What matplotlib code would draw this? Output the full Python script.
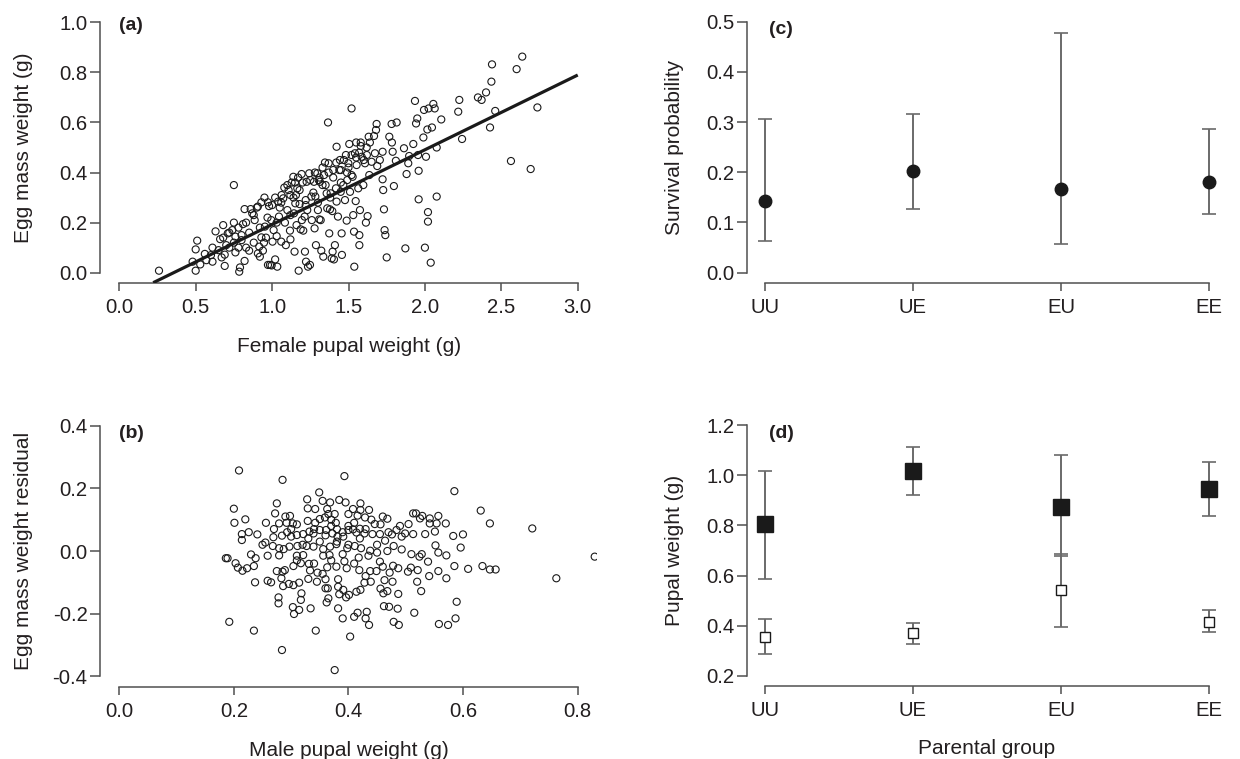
import matplotlib
matplotlib.use("Agg")
import matplotlib.pyplot as plt
import numpy as np

plt.rcParams['font.family'] = ['Liberation Sans', 'DejaVu Sans']

# ---------------- data ----------------
# (a) female pupal weight vs egg mass weight
female_w = [0.26, 0.50, 0.50, 0.51, 0.48, 0.53, 0.56, 0.61, 0.61, 0.63, 0.66, 0.67, 0.68, 0.69, 0.69, 0.71,
            0.72, 0.74, 0.75, 0.75, 0.76, 0.76, 0.78, 0.785, 0.79, 0.80, 0.81, 0.82, 0.82, 0.83, 0.83, 0.85,
            0.86, 0.87, 0.886, 0.907, 0.907, 0.916, 0.92, 0.93, 0.93, 0.94, 0.947, 0.953, 0.973, 0.973, 0.98,
            0.986, 0.995, 0.997, 1.003, 1.02, 1.034, 1.01, 1.03, 1.04, 1.045, 1.06, 1.062, 1.073, 1.084, 1.09,
            1.10, 1.108, 1.117, 1.12, 1.128, 1.139, 1.143, 1.147, 1.152, 1.156, 1.165, 1.174, 1.18, 1.187,
            1.193, 1.195, 1.204, 1.213, 1.215, 1.222, 1.226, 1.23, 1.235, 1.243, 1.248, 1.257, 1.274, 1.278,
            1.283, 1.287, 1.296, 1.30, 1.305, 1.309, 1.313, 1.318, 1.322, 1.33, 1.335, 1.34, 1.346, 1.357,
            1.361, 1.366, 1.37, 1.374, 1.379, 1.383, 1.39, 1.394, 1.396, 1.40, 1.405, 1.411, 1.418, 1.422,
            1.422, 1.431, 1.44, 1.444, 1.449, 1.455, 1.457, 1.466, 1.477, 1.483, 1.488, 1.492, 1.499, 1.505,
            1.51, 1.52, 1.527, 1.531, 1.536, 1.538, 1.542, 1.547, 1.553, 1.564, 1.571, 1.571, 1.575, 1.58,
            1.586, 1.597, 1.608, 1.614, 1.619, 1.625, 1.632, 1.636, 1.651, 1.667, 1.673, 1.68, 1.684, 1.688,
            1.705, 1.723, 1.723, 1.727, 1.732, 1.736, 1.741, 1.75, 1.767, 1.782, 1.784, 1.789, 1.797, 1.81,
            1.815, 1.863, 1.872, 1.88, 1.891, 1.897, 1.924, 1.935, 1.942, 1.95, 1.955, 1.959, 1.959, 1.99,
            1.994, 2.0, 2.007, 2.016, 2.02, 2.02, 2.024, 2.038, 2.046, 2.055, 2.064, 2.077, 2.077, 2.107,
            2.218, 2.225, 2.243, 2.347, 2.371, 2.40, 2.426, 2.435, 2.439, 2.46, 2.563, 2.60, 2.637, 2.692,
            2.736,
            0.88, 0.90, 0.95, 0.97, 1.00, 1.02, 1.05, 1.06, 1.08, 1.10, 1.12, 1.14, 1.15, 1.17, 1.18, 1.20,
            1.22, 1.25, 1.27, 1.28, 1.31, 1.33, 1.35, 1.37, 1.40, 1.42, 1.45, 1.47, 1.50, 1.52, 1.55, 1.57,
            1.60, 1.62, 1.58, 1.64, 1.55, 1.49, 1.03, 0.92, 0.85, 0.80, 0.78, 0.75, 0.70, 0.65, 0.60, 0.57,
            0.72, 0.68, 1.12, 1.22, 1.30, 1.38, 1.45, 1.52, 1.26, 1.16, 0.96, 0.88]
egg_w = [0.008, 0.008, 0.093, 0.128, 0.044, 0.033, 0.075, 0.044, 0.10, 0.165, 0.134, 0.061, 0.19, 0.072, 0.027, 0.157,
         0.10, 0.17, 0.35, 0.20, 0.144, 0.081, 0.10, 0.004, 0.021, 0.13, 0.194, 0.254, 0.047, 0.10, 0.20, 0.088,
         0.254, 0.237, 0.21, 0.077, 0.264, 0.104, 0.064, 0.281, 0.141, 0.088, 0.12, 0.184, 0.281, 0.031, 0.266,
         0.031, 0.21, 0.029, 0.124, 0.053, 0.024, 0.17, 0.146, 0.284, 0.224, 0.124, 0.31, 0.297, 0.20, 0.11,
         0.25, 0.33, 0.168, 0.133, 0.36, 0.383, 0.237, 0.084, 0.277, 0.31, 0.337, 0.008, 0.274, 0.173,
         0.394, 0.21, 0.168, 0.224, 0.084, 0.044, 0.363, 0.25, 0.024, 0.397, 0.031, 0.304, 0.363, 0.177,
         0.304, 0.11, 0.397, 0.25, 0.37, 0.213, 0.363, 0.21, 0.088, 0.35, 0.064, 0.39, 0.44, 0.317,
         0.257, 0.60, 0.437, 0.157, 0.253, 0.317, 0.057, 0.246, 0.084, 0.41, 0.053, 0.11, 0.337, 0.503,
         0.284, 0.224, 0.41, 0.45, 0.323, 0.157, 0.071, 0.35, 0.29, 0.47, 0.208, 0.37, 0.437, 0.514,
         0.323, 0.656, 0.383, 0.23, 0.164, 0.024, 0.477, 0.286, 0.43, 0.337, 0.15, 0.11, 0.25, 0.506,
         0.463, 0.35, 0.437, 0.20, 0.50, 0.226, 0.543, 0.39, 0.443, 0.546, 0.477, 0.57, 0.594, 0.426,
         0.45, 0.483, 0.373, 0.33, 0.253, 0.17, 0.15, 0.061, 0.543, 0.594, 0.52, 0.483, 0.346, 0.447,
         0.60, 0.497, 0.097, 0.394, 0.437, 0.466, 0.514, 0.686, 0.596, 0.616, 0.47, 0.293, 0.407, 0.54,
         0.65, 0.10, 0.463, 0.572, 0.242, 0.204, 0.656, 0.04, 0.58, 0.674, 0.656, 0.50, 0.304, 0.612,
         0.643, 0.69, 0.534, 0.70, 0.69, 0.72, 0.58, 0.763, 0.832, 0.646, 0.446, 0.813, 0.863, 0.414,
         0.66,
         0.23, 0.26, 0.30, 0.22, 0.27, 0.30, 0.26, 0.28, 0.34, 0.35, 0.31, 0.30, 0.36, 0.38, 0.33, 0.36,
         0.29, 0.37, 0.32, 0.40, 0.38, 0.42, 0.35, 0.40, 0.38, 0.44, 0.41, 0.45, 0.42, 0.47, 0.46, 0.48,
         0.45, 0.47, 0.52, 0.52, 0.52, 0.40, 0.20, 0.18, 0.16, 0.15, 0.18, 0.12, 0.11, 0.09, 0.07, 0.05,
         0.16, 0.14, 0.23, 0.27, 0.28, 0.30, 0.36, 0.39, 0.21, 0.19, 0.14, 0.12]
fit_intercept = -0.1063
fit_slope = 0.2986
fit_x_range = [0.222, 3.0]

# (b) male pupal weight vs egg mass weight residual
male_w = [0.209, 0.285, 0.393, 0.585, 0.349, 0.20, 0.328, 0.384, 0.395, 0.421, 0.275, 0.329, 0.342, 0.355,
          0.368, 0.363, 0.408, 0.421, 0.436, 0.631, 0.272, 0.298, 0.22, 0.201, 0.256, 0.279, 0.292, 0.303,
          0.31, 0.329, 0.342, 0.35, 0.359, 0.365, 0.376, 0.378, 0.40, 0.416, 0.429, 0.446, 0.456, 0.468,
          0.505, 0.513, 0.518, 0.525, 0.529, 0.542, 0.557, 0.542, 0.554, 0.57, 0.647, 0.721, 0.214, 0.226,
          0.241, 0.214, 0.269, 0.284, 0.255, 0.268, 0.293, 0.30, 0.31, 0.321, 0.332, 0.339, 0.35, 0.361,
          0.372, 0.381, 0.391, 0.40, 0.408, 0.414, 0.42, 0.428, 0.442, 0.455, 0.464, 0.476, 0.484, 0.493,
          0.499, 0.513, 0.534, 0.551, 0.583, 0.60, 0.596, 0.279, 0.287, 0.297, 0.311, 0.327, 0.339, 0.356,
          0.368, 0.379, 0.398, 0.411, 0.422, 0.438, 0.45, 0.468, 0.479, 0.493, 0.51, 0.528, 0.552, 0.557,
          0.571, 0.186, 0.189, 0.23, 0.238, 0.259, 0.279, 0.31, 0.321, 0.356, 0.367, 0.393, 0.418, 0.435,
          0.455, 0.478, 0.524, 0.539, 0.585, 0.634, 0.609, 0.647, 0.657, 0.83, 0.203, 0.207, 0.215, 0.223,
          0.235, 0.275, 0.285, 0.289, 0.304, 0.317, 0.331, 0.333, 0.346, 0.355, 0.363, 0.379, 0.397, 0.419,
          0.438, 0.449, 0.46, 0.472, 0.487, 0.504, 0.509, 0.521, 0.541, 0.557, 0.571, 0.763, 0.237, 0.259,
          0.265, 0.283, 0.286, 0.296, 0.304, 0.314, 0.33, 0.345, 0.36, 0.36, 0.364, 0.382, 0.382, 0.384,
          0.391, 0.396, 0.401, 0.414, 0.421, 0.428, 0.439, 0.456, 0.461, 0.468, 0.463, 0.477, 0.487, 0.52,
          0.527, 0.278, 0.278, 0.318, 0.317, 0.303, 0.305, 0.314, 0.334, 0.362, 0.365, 0.382, 0.39, 0.41,
          0.416, 0.43, 0.432, 0.436, 0.462, 0.471, 0.486, 0.479, 0.488, 0.515, 0.589, 0.558, 0.574, 0.587,
          0.192, 0.235, 0.343, 0.403, 0.284, 0.376,
          0.37, 0.38, 0.39, 0.40, 0.41, 0.36, 0.35, 0.38, 0.40, 0.42, 0.43, 0.44, 0.37, 0.34, 0.33, 0.32,
          0.31, 0.34, 0.37, 0.39, 0.41, 0.43, 0.45, 0.47, 0.49, 0.46, 0.30, 0.29, 0.27, 0.25]
egg_resid = [0.257, 0.227, 0.239, 0.191, 0.187, 0.135, 0.165, 0.163, 0.155, 0.152, 0.152, 0.136, 0.134, 0.16,
             0.155, 0.134, 0.134, 0.131, 0.131, 0.129, 0.12, 0.112, 0.101, 0.09, 0.09, 0.088, 0.09, 0.088,
             0.085, 0.096, 0.09, 0.102, 0.107, 0.118, 0.118, 0.09, 0.118, 0.113, 0.107, 0.086, 0.085, 0.103,
             0.086, 0.12, 0.12, 0.104, 0.112, 0.104, 0.112, 0.088, 0.088, 0.088, 0.088, 0.072, 0.054, 0.06,
             0.053, 0.035, 0.044, 0.049, 0.027, 0.016, 0.06, 0.046, 0.051, 0.054, 0.062, 0.056, 0.067, 0.067,
             0.056, 0.046, 0.046, 0.067, 0.069, 0.059, 0.071, 0.056, 0.054, 0.054, 0.033, 0.053, 0.067, 0.046,
             0.056, 0.054, 0.054, 0.062, 0.048, 0.053, 0.011, 0.009, 0.006, 0.014, 0.016, 0.016, 0.014, 0.006,
             0.014, 0.022, 0.009, 0.016, 0.009, 0.001, -0.005, 0.0, 0.016, 0.005, -0.01, -0.01, 0.018, -0.005,
             -0.014, -0.023, -0.023, -0.011, -0.023, -0.015, -0.014, -0.015, -0.013, -0.015, -0.013, -0.033,
             -0.021, -0.015, -0.034, -0.047, -0.018, -0.034, -0.048, -0.048, -0.057, -0.059, -0.059, -0.018,
             -0.039, -0.053, -0.063, -0.055, -0.048, -0.064, -0.066, -0.061, -0.048, -0.039, -0.041, -0.062,
             -0.069, -0.073, -0.052, -0.05, -0.055, -0.061, -0.064, -0.064, -0.05, -0.069, -0.055, -0.066,
             -0.053, -0.061, -0.08, -0.064, -0.087, -0.087, -0.1, -0.095, -0.1, -0.087, -0.112, -0.105,
             -0.109, -0.101, -0.089, -0.098, -0.09, -0.119, -0.119, -0.09, -0.114, -0.138, -0.124, -0.148,
             -0.14, -0.13, -0.124, -0.101, -0.098, -0.12, -0.135, -0.128, -0.093, -0.098, -0.137, -0.098,
             -0.128, -0.148, -0.167, -0.135, -0.156, -0.179, -0.201, -0.188, -0.183, -0.164, -0.151, -0.183,
             -0.215, -0.21, -0.197, -0.215, -0.194, -0.236, -0.176, -0.178, -0.184, -0.226, -0.236, -0.197,
             -0.162, -0.233, -0.236, -0.215, -0.226, -0.254, -0.254, -0.273, -0.316, -0.38,
             0.08, 0.07, 0.06, 0.08, 0.09, 0.05, 0.03, 0.03, 0.02, 0.04, 0.07, 0.10, 0.10, 0.07, 0.04, 0.02,
             -0.03, -0.04, -0.03, -0.01, -0.04, -0.08, 0.02, 0.06, 0.08, 0.11, 0.07, 0.11, 0.07, 0.02]

# (c) survival probability by parental group
groups = ['UU', 'UE', 'EU', 'EE']
survival = [0.143, 0.202, 0.166, 0.181]
survival_lo = [0.064, 0.126, 0.057, 0.117]
survival_hi = [0.306, 0.316, 0.477, 0.286]

# (d) pupal weight by parental group (filled = females, open = males)
pupal_f = [0.806, 1.017, 0.875, 0.946]
pupal_f_lo = [0.586, 0.921, 0.677, 0.836]
pupal_f_hi = [1.016, 1.112, 1.079, 1.051]
pupal_m = [0.354, 0.371, 0.543, 0.416]
pupal_m_lo = [0.287, 0.327, 0.397, 0.374]
pupal_m_hi = [0.426, 0.412, 0.685, 0.462]

# ---------------- figure ----------------
W, H = 1240, 759
fig = plt.figure(figsize=(W / 100, H / 100), dpi=100)

def px_axes(left, top, right, bottom):
    return fig.add_axes([left / W, 1 - bottom / H, (right - left) / W, (bottom - top) / H])

def ftext(x, y, s, **kw):
    fig.text(x / W, 1 - y / H, s, **kw)

SP = '#505050'
TXT = '#231f20'
TICK_FS = 14.6
LAB_FS = 15
PANEL_FS = 14

def style(ax, xb, yb, xticks, yticks, xticklabels=None, yticklabels=None):
    for s in ['top', 'right']:
        ax.spines[s].set_visible(False)
    for s in ['left', 'bottom']:
        ax.spines[s].set_color(SP)
        ax.spines[s].set_linewidth(1.1)
    ax.spines['bottom'].set_bounds(*xb)
    ax.spines['left'].set_bounds(*yb)
    ax.set_xticks(xticks)
    ax.set_yticks(yticks)
    if xticklabels is not None:
        ax.set_xticklabels(xticklabels)
    if yticklabels is not None:
        ax.set_yticklabels(yticklabels)
    ax.tick_params(axis='both', direction='out', width=1.1, color=SP,
                   labelsize=TICK_FS, labelcolor=TXT)
    ax.tick_params(axis='x', length=6, pad=5)
    ax.tick_params(axis='y', length=7.5, pad=1.5)
    ax.patch.set_alpha(0)

def fmt(v):
    return ['%.1f' % t for t in v]

# panel a
axa = px_axes(100, 12.3, 597, 282.7)
axa.set_xlim(-0.126, 3.126)
axa.set_ylim(-0.04, 1.04)
axa.scatter(female_w, egg_w, s=26, facecolors='none', edgecolors='#1a1a1a', linewidths=0.8, zorder=2)
fx = np.array(fit_x_range)
axa.plot(fx, fit_intercept + fit_slope * fx, color='#1a1a1a', lw=2.3, zorder=3, solid_capstyle='butt')
xt = [0, 0.5, 1.0, 1.5, 2.0, 2.5, 3.0]
yt = [0, 0.2, 0.4, 0.6, 0.8, 1.0]
style(axa, (0, 3), (0, 1), xt, yt, fmt(xt), fmt(yt))
ftext(119, 26, '(a)', fontsize=PANEL_FS, fontweight='bold', color=TXT, ha='left', va='center')
ftext(349, 347, 'Female pupal weight (g)', fontsize=LAB_FS, color=TXT, ha='center', va='center')
ftext(24, 148, 'Egg mass weight (g)', fontsize=LAB_FS, color=TXT, ha='center', va='center', rotation=90)

# panel b
axb = px_axes(100, 415, 597, 686.7)
axb.set_xlim(-0.0337, 0.834)
axb.set_ylim(-0.433, 0.434)
axb.scatter(male_w, egg_resid, s=26, facecolors='none', edgecolors='#1a1a1a', linewidths=0.8, zorder=2)
xt = [0, 0.2, 0.4, 0.6, 0.8]
yt = [-0.4, -0.2, 0, 0.2, 0.4]
style(axb, (0, 0.8), (-0.4, 0.4), xt, yt, fmt(xt), fmt(yt))
ftext(119, 433, '(b)', fontsize=PANEL_FS, fontweight='bold', color=TXT, ha='left', va='center')
ftext(349, 750, 'Male pupal weight (g)', fontsize=LAB_FS, color=TXT, ha='center', va='center')
ftext(24, 551, 'Egg mass weight residual', fontsize=LAB_FS, color=TXT, ha='center', va='center', rotation=90)

EB = '#6a6a6a'
# panel c
axc = px_axes(746.7, 11.7, 1227, 282.7)
axc.set_xlim(0.8785, 4.1215)
axc.set_ylim(-0.02, 0.52)
xs = np.arange(1, len(groups) + 1)
sv = np.array(survival)
axc.errorbar(xs, sv, yerr=[sv - np.array(survival_lo), np.array(survival_hi) - sv], fmt='none',
             ecolor=EB, elinewidth=1.4, capsize=5, capthick=1.2, zorder=2)
axc.plot(xs, sv, 'o', ms=9, color='#1a1a1a', zorder=3)
yt = [0, 0.1, 0.2, 0.3, 0.4, 0.5]
style(axc, (1, 4), (0, 0.5), xs, yt, groups, fmt(yt))
ftext(769, 30, '(c)', fontsize=PANEL_FS, fontweight='bold', color=TXT, ha='left', va='center')
ftext(674, 147, 'Survival probability', fontsize=LAB_FS, color=TXT, ha='center', va='center', rotation=90)

# panel d
axd = px_axes(746.7, 415, 1227, 686)
axd.set_xlim(0.8785, 4.1215)
axd.set_ylim(0.16, 1.24)
pf = np.array(pupal_f)
pm = np.array(pupal_m)
axd.errorbar(xs, pf, yerr=[pf - np.array(pupal_f_lo), np.array(pupal_f_hi) - pf], fmt='none',
             ecolor=EB, elinewidth=1.4, capsize=5, capthick=1.2, zorder=2)
axd.errorbar(xs, pm, yerr=[pm - np.array(pupal_m_lo), np.array(pupal_m_hi) - pm], fmt='none',
             ecolor=EB, elinewidth=1.4, capsize=5, capthick=1.2, zorder=2)
axd.plot(xs, pf, 's', ms=11, color='#1a1a1a', zorder=3)
axd.plot(xs, pm, 's', ms=7.5, mfc='white', mec='#1a1a1a', mew=1.0, zorder=3)
yt = [0.2, 0.4, 0.6, 0.8, 1.0, 1.2]
style(axd, (1, 4), (0.2, 1.2), xs, yt, groups, fmt(yt))
ftext(769, 434, '(d)', fontsize=PANEL_FS, fontweight='bold', color=TXT, ha='left', va='center')
ftext(674, 550.5, 'Pupal weight (g)', fontsize=LAB_FS, color=TXT, ha='center', va='center', rotation=90)
ftext(987, 749, 'Parental group', fontsize=LAB_FS, color=TXT, ha='center', va='center')

fig.savefig('out.png', dpi=100, facecolor='white')
